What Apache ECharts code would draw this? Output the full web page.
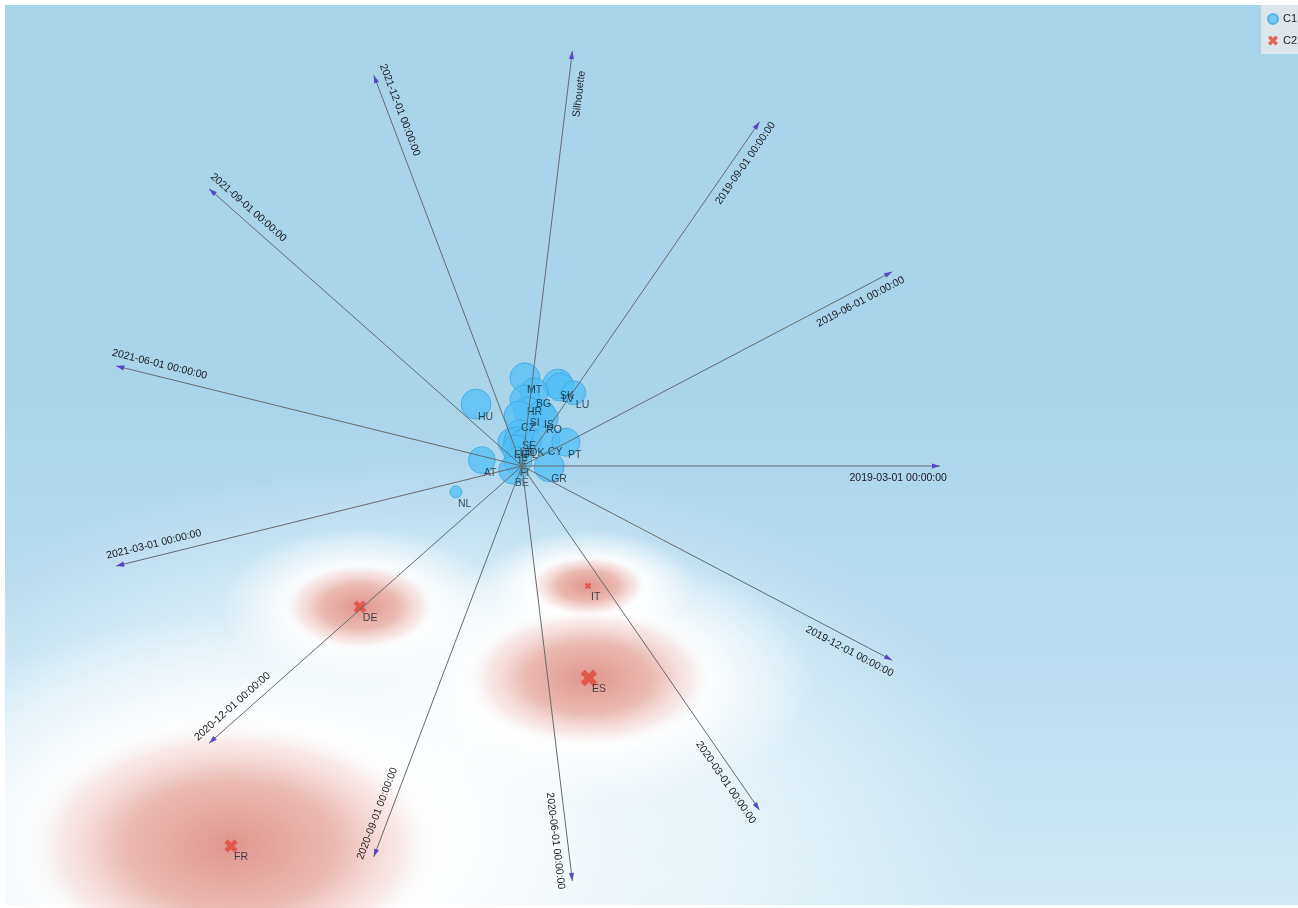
<!DOCTYPE html>
<html>
<head>
<meta charset="utf-8">
<script src="https://cdn.jsdelivr.net/npm/echarts@6/dist/echarts.min.js"></script>
<style>
  html, body { margin: 0; padding: 0; background: #ffffff; }
  #chart { width: 1298px; height: 908px; }
</style>
</head>
<body>
<div id="chart"></div>
<script>
// RadViz anchors, placed counter-clockwise starting from the positive x direction
const anchorNames = [
  '2019-03-01 00:00:00', '2019-06-01 00:00:00', '2019-09-01 00:00:00', 'Silhouette',
  '2021-12-01 00:00:00', '2021-09-01 00:00:00', '2021-06-01 00:00:00', '2021-03-01 00:00:00',
  '2020-12-01 00:00:00', '2020-09-01 00:00:00', '2020-06-01 00:00:00', '2020-03-01 00:00:00',
  '2019-12-01 00:00:00'
];

// Cluster C1 members: projected position and weight
const c1Names  = ['MT', 'SK', 'LV', 'LU', 'BG', 'HR', 'HU', 'SI', 'IS', 'RO', 'CZ', 'SE',
                  'EE', 'LT', 'PL', 'DK', 'IE', 'CY', 'PT', 'AT', 'FI', 'BE', 'GR', 'NL'];
const c1X      = [0.007, 0.086, 0.091, 0.124, 0.029, 0.007, -0.110, 0.014, 0.048, 0.053, -0.007, -0.005,
                  -0.024, -0.010, 0.002, 0.014, -0.014, 0.057, 0.105, -0.096, -0.010, -0.022, 0.065, -0.158];
const c1Y      = [0.211, 0.196, 0.189, 0.175, 0.177, 0.158, 0.148, 0.132, 0.127, 0.115, 0.120, 0.077,
                  0.057, 0.060, 0.057, 0.060, 0.041, 0.062, 0.057, 0.014, 0.012, -0.010, -0.002, -0.062];
const c1Weight = [56, 56, 49, 36, 49, 56, 56, 49, 42, 49, 56, 49,
                  49, 49, 42, 49, 49, 49, 49, 45, 49, 49, 56, 9];

// Cluster C2 members: projected position, weight and density spread (x / y)
const c2Names   = ['DE', 'IT', 'ES', 'FR'];
const c2X       = [-0.388, 0.158, 0.160, -0.696];
const c2Y       = [-0.337, -0.287, -0.507, -0.909];
const c2Weight  = [10, 2.5, 17, 11];
const c2SpreadX = [0.175, 0.135, 0.285, 0.48];
const c2SpreadY = [0.1, 0.07, 0.16, 0.29];

// Visible window of the projection plane
const viewX = [-1.23684, 1.85646];
const viewY = [-1.05024, 1.10287];

const FONT = '"Liberation Sans", Arial, sans-serif';
const CROSS = 'path://M2.5,0 L5,2.5 L7.5,0 L10,2.5 L7.5,5 L10,7.5 L7.5,10 L5,7.5 L2.5,10 L0,7.5 L2.5,5 L0,2.5 Z';

const c1Data = c1Names.map((n, i) => [c1X[i], c1Y[i], c1Weight[i], n]);
const c2Data = c2Names.map((n, i) => [c2X[i], c2Y[i], c2Weight[i], n]);
const haloData = c2Names.map((n, i) => [c2X[i], c2Y[i], c2SpreadX[i], c2SpreadY[i]]);
const anchorData = anchorNames.map((n, i) => [i, n]);

function radial(stops) {
  return new echarts.graphic.RadialGradient(0.5, 0.5, 0.5,
    stops.map(s => ({ offset: s[0], color: s[1] })));
}

// Elliptical density blob around a C2 member
function haloItem(scale, stops) {
  return function (params, api) {
    const c = api.coord([api.value(0), api.value(1)]);
    const rx = api.size([api.value(2), 0])[0];
    const ry = api.size([0, api.value(3)])[1];
    return {
      type: 'circle',
      x: c[0], y: c[1],
      scaleX: rx / ry,
      shape: { cx: 0, cy: 0, r: ry * scale },
      style: { fill: radial(stops) },
      silent: true
    };
  };
}

function anchorItem(params, api) {
  const k = api.value(0);
  const name = anchorNames[k];
  const a = k * 2 * Math.PI / anchorNames.length;
  const o = api.coord([0, 0]);
  const t = api.coord([Math.cos(a), Math.sin(a)]);
  const dx = t[0] - o[0], dy = t[1] - o[1];
  const len = Math.sqrt(dx * dx + dy * dy);
  const ux = dx / len, uy = dy / len;      // outward, screen space
  const px = -uy, py = ux;                 // right-hand side of the outward direction
  const ah = 8, aw = 2.6;
  let rot = a;
  if (rot > Math.PI / 2 && rot <= 3 * Math.PI / 2) rot -= Math.PI;
  const lx = o[0] + ux * len * 0.9 + px * 12;
  const ly = o[1] + uy * len * 0.9 + py * 12;
  return {
    type: 'group',
    children: [
      { type: 'line', shape: { x1: o[0], y1: o[1], x2: t[0], y2: t[1] },
        style: { stroke: '#666b6e', lineWidth: 1 } },
      { type: 'polygon', shape: { points: [
          [t[0], t[1]],
          [t[0] - ux * ah + px * aw, t[1] - uy * ah + py * aw],
          [t[0] - ux * ah - px * aw, t[1] - uy * ah - py * aw]
        ] }, style: { fill: '#5448c8' } },
      { type: 'text', x: lx, y: ly, rotation: rot,
        style: { text: name, x: 0, y: 0, align: 'center', verticalAlign: 'middle',
                 font: '10.5px ' + FONT, fill: '#1a1a1a' } }
    ]
  };
}

const chart = echarts.init(document.getElementById('chart'), null, { renderer: 'canvas' });

chart.setOption({
  backgroundColor: '#ffffff',
  animation: false,
  grid: { left: 5, top: 5, right: 0, bottom: 3 },
  xAxis: { type: 'value', min: viewX[0], max: viewX[1], show: false },
  yAxis: { type: 'value', min: viewY[0], max: viewY[1], show: false },
  graphic: [
    { type: 'rect', z: -10, silent: true,
      shape: { x: 5, y: 5, width: 1293, height: 900 },
      style: { fill: new echarts.graphic.LinearGradient(0, 0, 0, 1, [
        { offset: 0, color: '#a8d4ea' },
        { offset: 0.45, color: '#a9d5eb' },
        { offset: 0.75, color: '#bcdef0' },
        { offset: 1, color: '#d2e9f4' }
      ]) } },
    { type: 'circle', z: -9, silent: true, x: 420, y: 790, scaleX: 1.75,
      shape: { cx: 0, cy: 0, r: 330 },
      style: { fill: radial([[0, 'rgba(255,255,255,0.85)'], [0.5, 'rgba(255,255,255,0.6)'], [1, 'rgba(255,255,255,0)']]) } }
  ],
  legend: {
    orient: 'vertical', left: 1261, top: 5,
    backgroundColor: '#dfe6eb',
    padding: [8, 10, 8, 6],
    itemGap: 10, itemWidth: 10, itemHeight: 10,
    textStyle: { fontFamily: FONT, fontSize: 11, color: '#222' },
    data: ['C1', 'C2']
  },
  series: [
    { type: 'custom', name: 'glow', z: 1, silent: true, data: haloData,
      renderItem: haloItem(1.9, [[0, 'rgba(255,255,255,0.95)'], [0.55, 'rgba(255,255,255,0.85)'], [1, 'rgba(255,255,255,0)']]) },
    { type: 'custom', name: 'density', z: 1, silent: true, data: haloData,
      renderItem: haloItem(1.05, [[0, 'rgba(216,124,114,0.8)'], [0.5, 'rgba(226,148,138,0.66)'], [0.8, 'rgba(240,200,195,0.4)'], [1, 'rgba(255,255,255,0)']]) },
    { type: 'scatter', name: 'C1', z: 2, data: c1Data,
      symbol: 'circle',
      symbolSize: v => 4 * Math.sqrt(v[2]),
      itemStyle: { color: 'rgba(80,190,245,0.93)', borderColor: 'rgba(60,165,225,0.95)', borderWidth: 1 },
      label: { show: true, formatter: p => p.data[3], position: 'inside', align: 'left', verticalAlign: 'top',
               offset: [2, 7], fontFamily: FONT, fontSize: 10.5, color: '#14202a' },
      emphasis: { disabled: true } },
    { type: 'scatter', name: 'C2', z: 2, data: c2Data,
      symbol: CROSS,
      symbolSize: v => 4 * Math.sqrt(v[2]),
      itemStyle: { color: '#e2483a' },
      label: { show: true, formatter: p => p.data[3], position: 'inside', align: 'left', verticalAlign: 'top',
               offset: [3, 6], fontFamily: FONT, fontSize: 10.5, color: '#14202a' },
      emphasis: { disabled: true } },
    { type: 'custom', name: 'anchors', z: 3, silent: true, data: anchorData,
      renderItem: anchorItem }
  ]
});
</script>
</body>
</html>
